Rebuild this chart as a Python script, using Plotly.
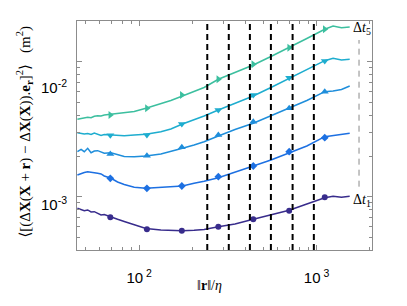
import plotly.graph_objects as go

# ---------------- data ----------------
R_LINE = [44.8, 47.0, 49.0, 51.2, 53.5, 55.8, 58.3, 60.9, 63.5, 69.3, 75.5, 82.3, 93.7,
          109.1, 132.5, 150.8, 175.3, 203.9, 232.2, 279.4, 346.9, 439.8, 553.2, 701.2,
          881.9, 1113, 1240, 1383, 1539]

DT1 = [8.205e-4, 8.04e-4, 7.877e-4, 7.972e-4, 7.705e-4, 7.743e-4, 7.574e-4, 7.318e-4, 7.381e-4,
       7.036e-4, 6.800e-4, 6.550e-4, 6.171e-4, 5.813e-4, 5.667e-4, 5.619e-4, 5.599e-4, 5.638e-4,
       5.715e-4, 5.995e-4, 6.277e-4, 6.800e-4, 7.318e-4, 7.931e-4, 8.830e-4, 9.831e-4, 1.007e-3,
       9.899e-4, 1.007e-3]
DT2 = [1.447e-3, 1.485e-3, 1.511e-3, 1.532e-3, 1.524e-3, 1.511e-3, 1.490e-3, 1.473e-3, 1.423e-3,
       1.368e-3, 1.285e-3, 1.231e-3, 1.174e-3, 1.154e-3, 1.174e-3, 1.190e-3, 1.200e-3, 1.257e-3,
       1.300e-3, 1.382e-3, 1.511e-3, 1.688e-3, 1.870e-3, 2.118e-3, 2.374e-3, 2.783e-3, 2.840e-3,
       2.889e-3, 2.949e-3]
DT3 = [2.154e-3, 2.244e-3, 2.154e-3, 2.283e-3, 2.118e-3, 2.181e-3, 2.192e-3, 2.144e-3, 2.097e-3,
       2.118e-3, 2.054e-3, 1.986e-3, 1.979e-3, 2.002e-3, 2.072e-3, 2.154e-3, 2.283e-3, 2.415e-3,
       2.555e-3, 2.816e-3, 3.145e-3, 3.497e-3, 3.961e-3, 4.516e-3, 5.160e-3, 5.995e-3, 6.067e-3,
       6.223e-3, 6.607e-3]
DT4 = [2.979e-3, 2.938e-3, 2.913e-3, 2.938e-3, 2.889e-3, 2.964e-3, 2.913e-3, 2.840e-3, 2.889e-3,
       2.879e-3, 2.840e-3, 2.831e-3, 2.864e-3, 2.899e-3, 3.030e-3, 3.172e-3, 3.455e-3, 3.699e-3,
       3.961e-3, 4.386e-3, 4.901e-3, 5.570e-3, 6.440e-3, 7.535e-3, 8.679e-3, 1.0172e-2, 1.060e-2,
       1.029e-2, 1.042e-2]
DT5 = [3.744e-3, 3.796e-3, 3.828e-3, 3.874e-3, 3.841e-3, 3.941e-3, 3.981e-3, 3.961e-3, 4.029e-3,
       4.078e-3, 4.099e-3, 4.148e-3, 4.277e-3, 4.516e-3, 4.860e-3, 5.160e-3, 5.570e-3, 6.067e-3,
       6.440e-3, 7.408e-3, 8.318e-3, 9.453e-3, 1.0927e-2, 1.270e-2, 1.485e-2, 1.738e-2, 1.838e-2,
       1.786e-2, 1.807e-2]

R_MARK = [68.7, 110.5, 173.9, 279.4, 439.8, 701.2, 1113]
MK1 = [7.036e-4, 5.735e-4, 5.599e-4, 5.995e-4, 6.800e-4, 7.877e-4, 9.899e-4]
MK2 = [1.368e-3, 1.154e-3, 1.200e-3, 1.406e-3, 1.688e-3, 2.154e-3, 2.735e-3]
MK3 = [2.072e-3, 2.012e-3, 2.322e-3, 2.864e-3, 3.594e-3, 4.516e-3, 5.995e-3]
MK4 = [2.850e-3, 2.864e-3, 3.455e-3, 4.386e-3, 5.666e-3, 7.613e-3, 1.012e-2]
MK5 = [4.029e-3, 4.516e-3, 5.666e-3, 7.408e-3, 9.566e-3, 1.270e-2, 1.738e-2]

DASHED_R = [242, 320, 421, 553, 733, 966]
GRAY_R = 1737
GRAY_Y = [1.186e-3, 1.448e-2]

X_MAJOR = [100, 1000]
X_MINOR = [50, 60, 70, 80, 90, 200, 300, 400, 500, 600, 700, 800, 900, 2000]
Y_MAJOR = [1e-3, 1e-2]
Y_MINOR = [5e-4, 6e-4, 7e-4, 8e-4, 9e-4, 2e-3, 3e-3, 4e-3, 5e-3, 6e-3, 7e-3, 8e-3, 9e-3]

SERIES = [
    (DT1, MK1, "#382c8c", "circle", 6),
    (DT2, MK2, "#1d70e2", "diamond", 6),
    (DT3, MK3, "#1f8edb", "triangle-up", 7),
    (DT4, MK4, "#1eadcf", "triangle-down", 7),
    (DT5, MK5, "#3cbf9f", "triangle-right", 7),
]

fig = go.Figure()
for line_y, mk_y, col, sym, sz in SERIES:
    fig.add_trace(go.Scatter(x=R_LINE, y=line_y, mode="lines",
                             line=dict(color=col, width=1.5), showlegend=False,
                             hoverinfo="skip"))
    fig.add_trace(go.Scatter(x=R_MARK, y=mk_y, mode="markers",
                             marker=dict(color=col, symbol=sym, size=sz, line=dict(width=0)),
                             showlegend=False))

for r in DASHED_R:
    fig.add_shape(type="line", xref="x", yref="paper", x0=r, x1=r, y0=0, y1=1,
                  line=dict(color="black", width=2, dash="6px,4px"), layer="above")
fig.add_shape(type="line", xref="x", yref="y", x0=GRAY_R, x1=GRAY_R,
              y0=GRAY_Y[0], y1=GRAY_Y[1],
              line=dict(color="#8a8a8a", width=1, dash="6px,5px"))

axcol = "#8c8c8c"
fig.update_xaxes(type="log", range=[1.649, 3.313], showgrid=False, zeroline=False,
                 showline=True, linecolor=axcol, linewidth=1, mirror="ticks",
                 ticks="inside", ticklen=5, tickcolor=axcol, tickvals=X_MAJOR,
                 ticktext=["10<sup> 2</sup>", "10<sup> 3</sup>"],
                 tickfont=dict(family="Liberation Sans, Arial", size=15, color="black"),
                 ticklabelstandoff=14,
                 minor=dict(tickvals=X_MINOR, ticks="inside", ticklen=3, tickcolor=axcol))
fig.update_yaxes(type="log", range=[-3.395, -1.6985], showgrid=False, zeroline=False,
                 showline=True, linecolor=axcol, linewidth=1, mirror="ticks",
                 ticks="inside", ticklen=5, tickcolor=axcol, tickvals=Y_MAJOR,
                 showticklabels=False,
                 minor=dict(tickvals=Y_MINOR, ticks="inside", ticklen=3, tickcolor=axcol))

serif = "Liberation Serif, DejaVu Serif, serif"
ann = [
    dict(text="10<sup>-2</sup>", xref="paper", yref="paper", x=-0.026, y=0.716,
         xanchor="right", yanchor="middle", showarrow=False,
         font=dict(family="Liberation Sans, Arial", size=15, color="black")),
    dict(text="10<sup>-3</sup>", xref="paper", yref="paper", x=-0.026, y=0.201,
         xanchor="right", yanchor="middle", showarrow=False,
         font=dict(family="Liberation Sans, Arial", size=15, color="black")),
    dict(text="⟨[(Δ<b>X</b>(<b>X</b> + <b>r</b>) − Δ<b>X</b>(<b>X</b>)).<b>e</b><sub><b>r</b></sub>]<sup>2</sup>⟩   (m<sup>2</sup>)",
         xref="paper", yref="paper", x=-0.178, y=0.515, textangle=-90,
         xanchor="center", yanchor="middle", showarrow=False,
         font=dict(family=serif, size=15, color="black")),
    dict(text="‖<b>r</b>‖/<i>η</i>", xref="paper", yref="paper", x=0.448, y=-0.157,
         xanchor="center", yanchor="middle", showarrow=False,
         font=dict(family=serif, size=14, color="black")),
    dict(text="Δ<i>t</i><sub>5</sub>", xref="paper", yref="paper", x=0.928, y=0.969,
         xanchor="left", yanchor="middle", showarrow=False,
         font=dict(family=serif, size=14, color="black")),
    dict(text="Δ<i>t</i><sub>1</sub>", xref="paper", yref="paper", x=0.928, y=0.214,
         xanchor="left", yanchor="middle", showarrow=False,
         font=dict(family=serif, size=14, color="black")),
]

# the page body adds an 8px offset; size the figure so the plot area lands where the reference has it
fig.update_layout(width=399, height=298, margin=dict(l=69, r=35, t=13, b=56),
                  plot_bgcolor="white", paper_bgcolor="white", annotations=ann)

fig.write_html("out.html")
